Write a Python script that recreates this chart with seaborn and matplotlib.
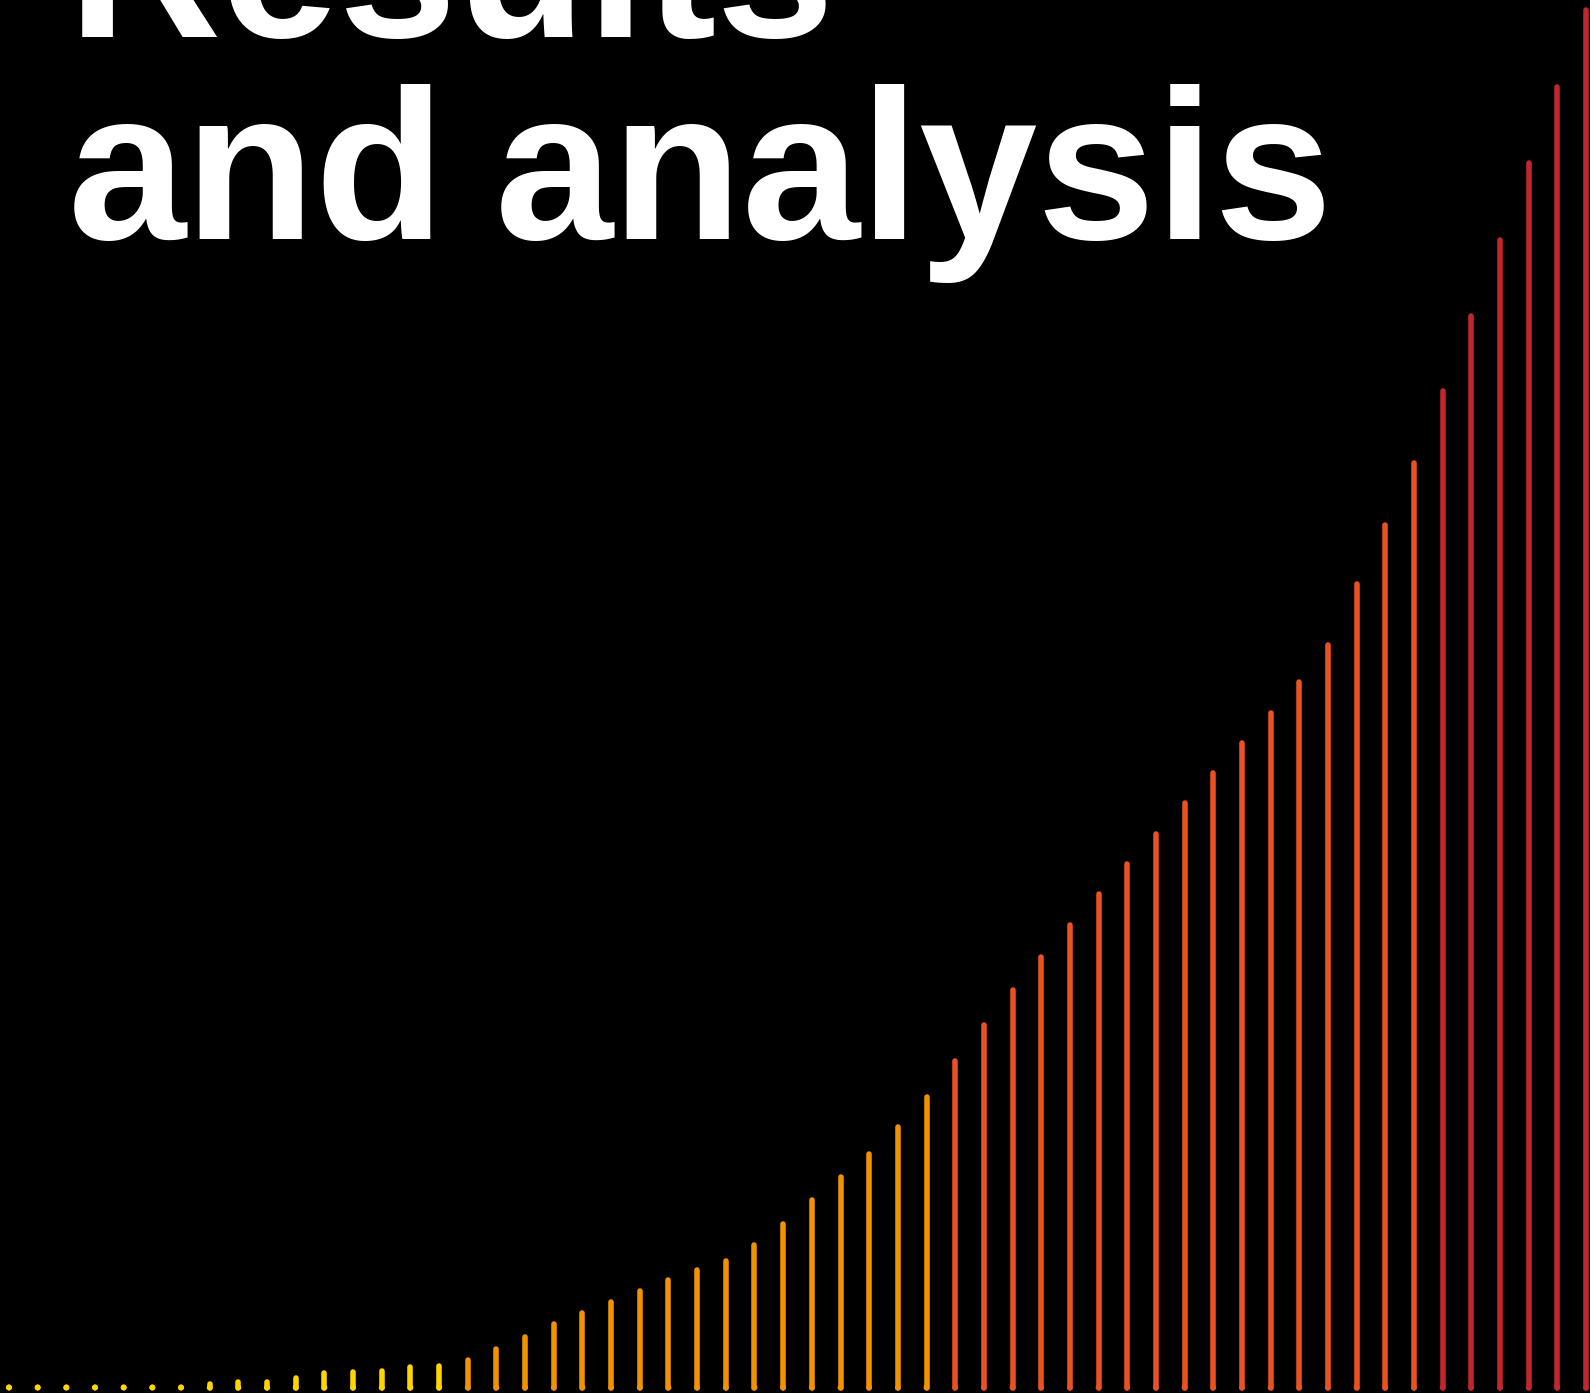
import numpy as np
import pandas as pd
import matplotlib.pyplot as plt
import seaborn as sns

# stick heights (left to right)
heights = [0, 0, 0, 0, 0, 0, 0, 4, 5.7, 6, 9.7, 15, 15.3, 16.7, 20.3, 21.7,
           27.7, 38.5, 51, 63.7, 74.3, 85.7, 96.7, 107.3, 117.7, 126.3, 142.3,
           164, 187.7, 210.3, 233.3, 260.3, 291,
           326.7, 362.7, 397.3, 431, 463, 493.7, 524, 554, 585, 615, 644.7,
           674.7, 705.7, 743, 803.7, 862.3, 925,
           997, 1072, 1148, 1225, 1301, 1378]
bands = ['yellow'] * 16 + ['orange'] * 17 + ['red-orange'] * 17 + ['red'] * 6
band_colors = {'yellow': '#FFD500', 'orange': '#F39200',
               'red-orange': '#EA5222', 'red': '#C1272D'}
title_words = ['Results', 'and', 'analysis']

rows = []
for i, (h, b) in enumerate(zip(heights, bands)):
    rows.append({'step': i, 'y': 0, 'band': b, 'stick': i})
    rows.append({'step': i, 'y': h, 'band': b, 'stick': i})
df = pd.DataFrame(rows)

sns.set_style('dark', {'axes.facecolor': 'black', 'figure.facecolor': 'black'})
plt.rcParams['font.family'] = ['Liberation Sans', 'DejaVu Sans']

fig = plt.figure(figsize=(15.9, 13.93), dpi=100)
ax = fig.add_axes([0, 0, 1, 1])

sns.lineplot(data=df, x='step', y='y', hue='band', units='stick', estimator=None,
             palette=band_colors, linewidth=4.0, solid_capstyle='round',
             legend=False, ax=ax)
base = df[df['y'] == 0]
sns.scatterplot(data=base, x='step', y='y', hue='band', palette=band_colors,
                s=18, linewidth=0, legend=False, ax=ax, zorder=3)

ax.set_xlim(-0.314, 55.14)
ax.set_ylim(-5.5, 1387.5)
ax.set_axis_off()

# title, tight tracking like the original
tkw = dict(color='white', fontsize=153, fontweight='bold', va='baseline', ha='left')
fig.text(68 / 1590, 1 - 37 / 1393, title_words[0], **tkw)
fig.text(68 / 1590, 1 - 239 / 1393, title_words[1], **tkw)
fig.text(495 / 1590, 1 - 239 / 1393, title_words[2], **tkw)

fig.savefig('out.png', dpi=100, facecolor='black')
